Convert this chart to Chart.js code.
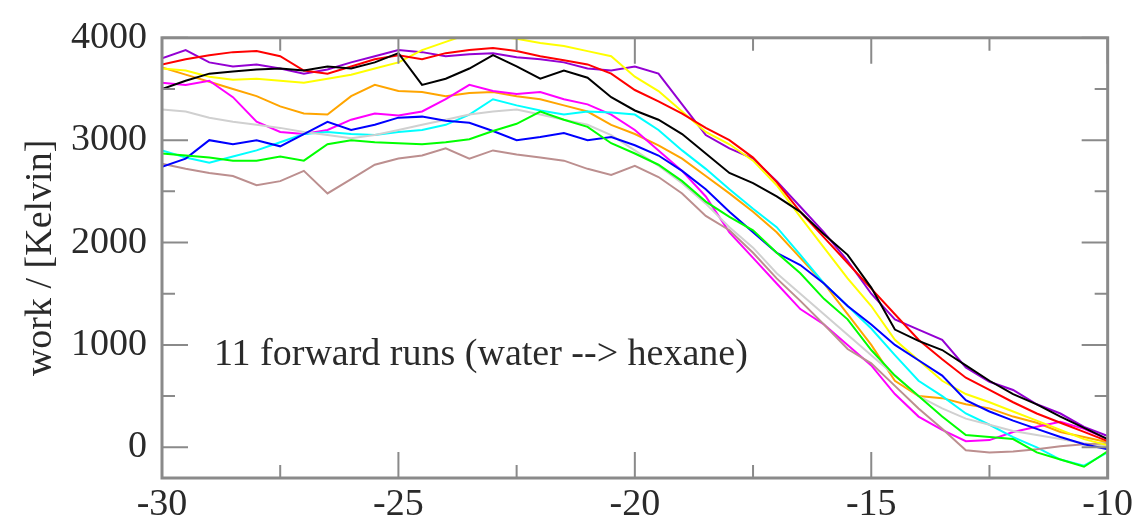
<!DOCTYPE html>
<html>
<head>
<meta charset="utf-8">
<script src="https://cdn.jsdelivr.net/npm/chart.js@4.4.1/dist/chart.umd.min.js"></script>
<style>
  html, body { margin: 0; padding: 0; background: #fff; }
  canvas { display: block; }
</style>
</head>
<body>
<canvas id="myChart" width="1137" height="524"></canvas>
<script>
// lambda positions (x) shared by all runs
const xs = [-30, -29.5, -29, -28.5, -28, -27.5, -27, -26.5, -26, -25.5, -25, -24.5, -24, -23.5, -23, -22.5, -22, -21.5, -21, -20.5,
  -20, -19.5, -19, -18.5, -18, -17.5, -17, -16.5, -16, -15.5, -15, -14.5, -14, -13.5, -13, -12.5, -12, -11.5, -11, -10.5, -10];

// work values, one list per forward run
const black = [3500, 3580, 3650, 3670, 3690, 3700, 3680, 3720, 3700, 3760, 3850, 3540, 3600, 3700, 3830, 3720, 3600, 3680, 3610, 3420,
  3290, 3200, 3060, 2870, 2680, 2580, 2450, 2300, 2080, 1880, 1560, 1150, 1040, 950, 800, 650, 520, 420, 300, 190, 80];
const red = [3740, 3790, 3830, 3860, 3870, 3820, 3680, 3650, 3720, 3790, 3830, 3790, 3850, 3880, 3900, 3870, 3820, 3780, 3740, 3650,
  3490, 3380, 3260, 3120, 3000, 2830, 2590, 2300, 2050, 1800, 1550, 1300, 1050, 860, 680, 560, 440, 330, 240, 150, 60];
const green = [2870, 2850, 2830, 2800, 2800, 2840, 2800, 2960, 3000, 2980, 2970, 2960, 2980, 3010, 3090, 3160, 3280, 3200, 3130, 2970,
  2870, 2760, 2600, 2400, 2250, 2120, 1900, 1700, 1450, 1250, 950, 700, 500, 300, 120, 100, 80, -50, -120, -190, -40];
const blue = [2740, 2820, 3000, 2960, 3000, 2940, 3060, 3180, 3100, 3150, 3220, 3230, 3190, 3170, 3090, 3000, 3030, 3070, 3000, 3030,
  2950, 2850, 2700, 2520, 2300, 2100, 1900, 1780, 1600, 1380, 1200, 1000, 850, 700, 460, 350, 260, 180, 100, 30, -20];
const yellow = [3700, 3680, 3620, 3590, 3600, 3580, 3560, 3600, 3640, 3700, 3760, 3880, 3960, 4040, 4020, 3990, 3950, 3920, 3870, 3820,
  3620, 3480, 3280, 3080, 2960, 2800, 2560, 2250, 1950, 1650, 1380, 1050, 850, 650, 520, 440, 350, 260, 170, 80, 20];
const brown = [2770, 2720, 2680, 2650, 2560, 2600, 2700, 2480, 2620, 2760, 2820, 2850, 2920, 2820, 2900, 2860, 2830, 2800, 2720, 2660,
  2750, 2640, 2480, 2260, 2120, 1900, 1650, 1430, 1200, 960, 820, 600, 380, 180, -30, -50, -40, -20, 10, 30, 40];
const grey = [3300, 3280, 3220, 3180, 3150, 3120, 3080, 3050, 3020, 3050, 3100, 3150, 3200, 3250, 3280, 3300, 3250, 3200, 3150, 3050,
  2900, 2750, 2580, 2380, 2150, 1950, 1700, 1500, 1300, 1100, 900, 700, 500, 380, 280, 220, 160, 120, 80, 40, 10];
const violet = [3800, 3880, 3760, 3720, 3740, 3700, 3650, 3690, 3760, 3820, 3880, 3860, 3820, 3840, 3850, 3810, 3790, 3760, 3700, 3680,
  3720, 3650, 3350, 3050, 2920, 2820, 2600, 2350, 2100, 1820, 1500, 1250, 1150, 1050, 780, 640, 560, 420, 330, 200, 110];
const cyan = [2900, 2830, 2780, 2840, 2900, 2980, 3060, 3080, 3060, 3050, 3080, 3100, 3150, 3250, 3400, 3340, 3290, 3250, 3280, 3270,
  3250, 3100, 2900, 2720, 2520, 2330, 2150, 1880, 1600, 1380, 1160, 900, 650, 500, 330, 220, 100, 0, -120, -180, -50];
const magenta = [3560, 3540, 3580, 3420, 3180, 3080, 3060, 3100, 3200, 3260, 3240, 3280, 3400, 3540, 3480, 3450, 3470, 3400, 3350, 3250,
  3100, 2900, 2700, 2450, 2100, 1850, 1600, 1350, 1200, 1000, 800, 520, 300, 170, 60, 70, 150, 200, 250, 180, 80];
const orange = [3710, 3640, 3570, 3500, 3430, 3330, 3260, 3250, 3430, 3540, 3480, 3470, 3430, 3460, 3470, 3430, 3400, 3340, 3280, 3150,
  3060, 2950, 2820, 2650, 2480, 2300, 2100, 1850, 1600, 1300, 1000, 650, 500, 480, 420, 380, 300, 240, 150, 100, 50];

const runs = [black, red, green, blue, yellow, brown, grey, violet, cyan, magenta, orange];
const runColors = ["#000000", "#ff0000", "#00ff00", "#0000ff", "#ffff00", "#bc8f8f", "#d0d0d0", "#9400d3", "#00ffff", "#ff00ff", "#ffa500"];

const xTicks = [-30, -25, -20, -15, -10];
const xMinor = [-27.5, -22.5, -17.5, -12.5];
const yTicks = [0, 1000, 2000, 3000, 4000];
const yMinor = [500, 1500, 2500, 3500];
const note = "11 forward runs (water --> hexane)";

Chart.defaults.font.family = '"Liberation Serif", "Times New Roman", serif';
Chart.defaults.color = "#2a2a2a";

// frame with inward ticks, like xmgrace, plus the text inside the plot
const framePlugin = {
  id: "frame",
  afterDraw(chart) {
    const ctx = chart.ctx;
    const a = chart.chartArea;
    const sx = chart.scales.x, sy = chart.scales.y;
    ctx.save();
    ctx.strokeStyle = "#8a8a8a";
    ctx.lineWidth = 2;
    function tx(v, len) {
      const p = sx.getPixelForValue(v);
      ctx.beginPath();
      ctx.moveTo(p, a.bottom); ctx.lineTo(p, a.bottom - len);
      ctx.moveTo(p, a.top); ctx.lineTo(p, a.top + len);
      ctx.stroke();
    }
    function ty(v, len) {
      const p = sy.getPixelForValue(v);
      ctx.beginPath();
      ctx.moveTo(a.left, p); ctx.lineTo(a.left + len, p);
      ctx.moveTo(a.right, p); ctx.lineTo(a.right - len, p);
      ctx.stroke();
    }
    xTicks.forEach(v => tx(v, 26));
    xMinor.forEach(v => tx(v, 13));
    yTicks.forEach(v => ty(v, 26));
    yMinor.forEach(v => ty(v, 13));
    ctx.lineWidth = 3;
    ctx.strokeRect(a.left, a.top, a.right - a.left, a.bottom - a.top);

    ctx.fillStyle = "#2a2a2a";
    ctx.font = '38px "Liberation Serif", serif';
    ctx.textAlign = "left";
    ctx.textBaseline = "middle";
    ctx.fillText(note, sx.getPixelForValue(-28.9), sy.getPixelForValue(900));
    ctx.restore();
  }
};

new Chart("myChart", {
  type: "line",
  data: {
    datasets: runs.map((r, i) => ({
      data: r.map((v, j) => ({ x: xs[j], y: v })),
      borderColor: runColors[i],
      borderWidth: 2,
      pointRadius: 0,
      tension: 0,
      fill: false
    }))
  },
  options: {
    responsive: false,
    animation: false,
    devicePixelRatio: 1,
    layout: { padding: { top: 33, right: 29, left: 0, bottom: 0 } },
    plugins: { legend: { display: false }, tooltip: { enabled: false } },
    scales: {
      x: {
        type: "linear",
        min: -30,
        max: -10,
        grid: { display: false, drawTicks: false },
        border: { display: false },
        afterBuildTicks: axis => { axis.ticks = xTicks.map(v => ({ value: v })); },
        afterFit: axis => { axis.height = 46; },
        ticks: {
          font: { size: 38 },
          padding: 4,
          maxRotation: 0,
          callback: v => String(v)
        }
      },
      y: {
        min: -300,
        max: 4000,
        grid: { display: false, drawTicks: false },
        border: { display: false },
        afterBuildTicks: axis => { axis.ticks = yTicks.map(v => ({ value: v })); },
        afterFit: axis => { axis.width = 162; },
        ticks: {
          font: { size: 38 },
          padding: 15,
          callback: v => String(v)
        },
        title: {
          display: true,
          text: "work / [Kelvin]",
          font: { size: 38 },
          padding: { top: 18, bottom: 0 }
        }
      }
    }
  },
  plugins: [framePlugin]
});
</script>
</body>
</html>
